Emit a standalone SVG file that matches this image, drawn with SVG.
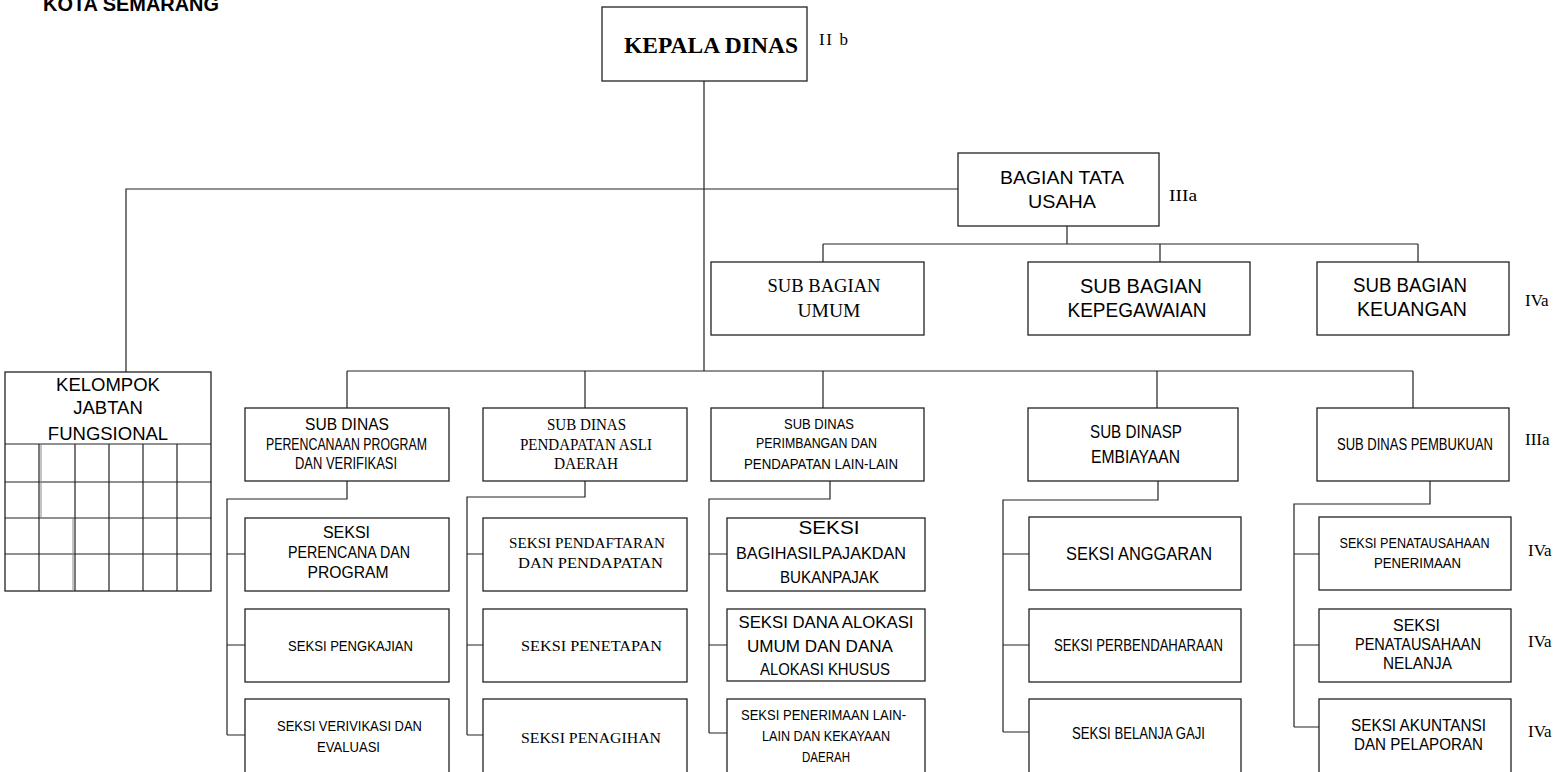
<svg xmlns="http://www.w3.org/2000/svg" width="1558" height="772" viewBox="0 0 1558 772">
<style>
.box{fill:#fff;stroke:#222;stroke-width:1.3}
.ln{fill:none;stroke:#222;stroke-width:1.2}
.a{font-family:"Liberation Sans",Arial,sans-serif;text-anchor:middle;fill:#000}
.t{font-family:"Liberation Serif","Times New Roman",serif;text-anchor:middle;fill:#000}
.lv{font-family:"Liberation Serif","Times New Roman",serif;fill:#000;font-size:17px}
</style>
<rect width="1558" height="772" fill="#fff"/>
<text x="43" y="11" font-family="Liberation Sans, Arial, sans-serif" font-weight="bold" font-size="19.5" textLength="176" lengthAdjust="spacingAndGlyphs">KOTA SEMARANG</text>

<g id="connectors">
<path class="ln" d="M704 81V371M958 189H126V372"/>
<path class="ln" d="M1067 226V244M823 244H1418M823 244V262M1160 244V262M1418 244V262"/>
<path class="ln" d="M347 371H1413M347 371V408M585 371V408M823 371V408M1157 371V408M1413 371V408"/>
<path class="ln" d="M347 481V499H227V735M227 554H245M227 645H245M227 735H245"/>
<path class="ln" d="M585 481V497H467V735M467 554H483M467 645H483M467 735H483"/>
<path class="ln" d="M830 481V499H709V733M709 554H727M709 645H727M709 733H727"/>
<path class="ln" d="M1158 481V500H1003V732M1003 554H1029M1003 645H1029M1003 732H1029"/>
<path class="ln" d="M1430 481V504H1294V727M1294 554H1319M1294 645H1319M1294 727H1323"/>
</g>

<g id="kepala-dinas">
<rect class="box" x="602" y="7" width="205" height="74"/>
<text class="t" x="711" y="53" font-size="23" font-weight="bold" textLength="174" lengthAdjust="spacingAndGlyphs">KEPALA DINAS</text>
<text class="lv" x="819" y="45" font-size="16" textLength="29" lengthAdjust="spacing">II b</text>
</g>

<g id="bagian-tata-usaha">
<rect class="box" x="958" y="153" width="201" height="73"/>
<text class="a" x="1062" y="184" font-size="18" textLength="124" lengthAdjust="spacingAndGlyphs">BAGIAN TATA</text>
<text class="a" x="1062" y="208" font-size="18" textLength="68" lengthAdjust="spacingAndGlyphs">USAHA</text>
<text class="lv" x="1169" y="201" font-size="18" textLength="28" lengthAdjust="spacingAndGlyphs">IIIa</text>
</g>

<g id="sub-bagian-umum">
<rect class="box" x="711" y="262" width="213" height="73"/>
<text class="t" x="824" y="292" font-size="19" textLength="113" lengthAdjust="spacingAndGlyphs">SUB BAGIAN</text>
<text class="t" x="829" y="317" font-size="19" textLength="63" lengthAdjust="spacingAndGlyphs">UMUM</text>
</g>

<g id="sub-bagian-kepegawaian">
<rect class="box" x="1028" y="262" width="222" height="73"/>
<text class="a" x="1141" y="293" font-size="20" textLength="122" lengthAdjust="spacingAndGlyphs">SUB BAGIAN</text>
<text class="a" x="1137" y="317" font-size="20" textLength="139" lengthAdjust="spacingAndGlyphs">KEPEGAWAIAN</text>
</g>

<g id="sub-bagian-keuangan">
<rect class="box" x="1317" y="262" width="192" height="73"/>
<text class="a" x="1410" y="292" font-size="20" textLength="114" lengthAdjust="spacingAndGlyphs">SUB BAGIAN</text>
<text class="a" x="1412" y="316" font-size="20" textLength="110" lengthAdjust="spacingAndGlyphs">KEUANGAN</text>
<text class="lv" x="1525" y="306">IVa</text>
</g>

<g id="kelompok-jabatan-fungsional">
<rect class="box" x="5" y="372" width="206" height="219"/>
<path class="ln" d="M5 444H211M5 482H211M5 518H211M5 554H211M39 444V591M75 444V591M109 444V591M143 444V591M177 444V591"/>
<path fill="none" stroke="#888" stroke-width="1" d="M41 444V518M73 518V591"/>
<text class="a" x="108" y="391" font-size="18.5">KELOMPOK</text>
<text class="a" x="108" y="414" font-size="18.5">JABTAN</text>
<text class="a" x="108" y="440" font-size="18.5">FUNGSIONAL</text>
</g>

<g id="sub-dinas-perencanaan">
<rect class="box" x="245" y="408" width="204" height="73"/>
<text class="a" x="347" y="430" font-size="16" textLength="84" lengthAdjust="spacingAndGlyphs">SUB DINAS</text>
<text class="a" x="346.5" y="450" font-size="16" textLength="161" lengthAdjust="spacingAndGlyphs">PERENCANAAN PROGRAM</text>
<text class="a" x="346" y="469" font-size="16" textLength="102" lengthAdjust="spacingAndGlyphs">DAN VERIFIKASI</text>
</g>

<g id="sub-dinas-pad">
<rect class="box" x="483" y="408" width="204" height="73"/>
<text class="t" x="586.5" y="430" font-size="16" textLength="79" lengthAdjust="spacingAndGlyphs">SUB DINAS</text>
<text class="t" x="586" y="450" font-size="16" textLength="132" lengthAdjust="spacingAndGlyphs">PENDAPATAN ASLI</text>
<text class="t" x="586" y="469" font-size="16" textLength="64" lengthAdjust="spacingAndGlyphs">DAERAH</text>
</g>

<g id="sub-dinas-perimbangan">
<rect class="box" x="711" y="408" width="213" height="73"/>
<text class="a" x="819" y="429" font-size="15" textLength="70" lengthAdjust="spacingAndGlyphs">SUB DINAS</text>
<text class="a" x="816.5" y="448" font-size="15" textLength="121" lengthAdjust="spacingAndGlyphs">PERIMBANGAN DAN</text>
<text class="a" x="821" y="469" font-size="15" textLength="154" lengthAdjust="spacingAndGlyphs">PENDAPATAN LAIN-LAIN</text>
</g>

<g id="sub-dinas-pembiayaan">
<rect class="box" x="1028" y="408" width="210" height="73"/>
<text class="a" x="1136" y="438" font-size="18" textLength="92" lengthAdjust="spacingAndGlyphs">SUB DINASP</text>
<text class="a" x="1135.5" y="463" font-size="18" textLength="89" lengthAdjust="spacingAndGlyphs">EMBIAYAAN</text>
</g>

<g id="sub-dinas-pembukuan">
<rect class="box" x="1317" y="408" width="192" height="73"/>
<text class="a" x="1415" y="450" font-size="16" textLength="156" lengthAdjust="spacingAndGlyphs">SUB DINAS PEMBUKUAN</text>
<text class="lv" x="1525" y="445">IIIa</text>
</g>

<g id="seksi-perencana-program">
<rect class="box" x="245" y="518" width="204" height="73"/>
<text class="a" x="346.5" y="538" font-size="16">SEKSI</text>
<text class="a" x="349" y="558" font-size="16" textLength="122" lengthAdjust="spacingAndGlyphs">PERENCANA DAN</text>
<text class="a" x="348" y="578" font-size="16" textLength="81" lengthAdjust="spacingAndGlyphs">PROGRAM</text>
</g>
<g id="seksi-pengkajian">
<rect class="box" x="245" y="609" width="204" height="73"/>
<text class="a" x="350.5" y="651" font-size="15" textLength="125" lengthAdjust="spacingAndGlyphs">SEKSI PENGKAJIAN</text>
</g>
<g id="seksi-verivikasi">
<rect class="box" x="245" y="699" width="204" height="100"/>
<text class="a" x="349.5" y="731" font-size="15" textLength="145" lengthAdjust="spacingAndGlyphs">SEKSI VERIVIKASI DAN</text>
<text class="a" x="348.5" y="752" font-size="15" textLength="63" lengthAdjust="spacingAndGlyphs">EVALUASI</text>
</g>

<g id="seksi-pendaftaran">
<rect class="box" x="483" y="518" width="204" height="73"/>
<text class="t" x="587" y="548" font-size="15" textLength="156" lengthAdjust="spacingAndGlyphs">SEKSI PENDAFTARAN</text>
<text class="t" x="590.5" y="568" font-size="15" textLength="145" lengthAdjust="spacingAndGlyphs">DAN PENDAPATAN</text>
</g>
<g id="seksi-penetapan">
<rect class="box" x="483" y="609" width="204" height="73"/>
<text class="t" x="591.5" y="651" font-size="15" textLength="141" lengthAdjust="spacingAndGlyphs">SEKSI PENETAPAN</text>
</g>
<g id="seksi-penagihan">
<rect class="box" x="483" y="699" width="204" height="100"/>
<text class="t" x="591" y="743" font-size="15" textLength="140" lengthAdjust="spacingAndGlyphs">SEKSI PENAGIHAN</text>
</g>

<g id="seksi-bagi-hasil">
<rect class="box" x="727" y="518" width="198" height="73"/>
<text class="a" x="829" y="534" font-size="19" textLength="61" lengthAdjust="spacingAndGlyphs">SEKSI</text>
<text class="a" x="821" y="559" font-size="17" textLength="170" lengthAdjust="spacingAndGlyphs">BAGIHASILPAJAKDAN</text>
<text class="a" x="829.5" y="583" font-size="17" textLength="99" lengthAdjust="spacingAndGlyphs">BUKANPAJAK</text>
</g>
<g id="seksi-dana-alokasi">
<rect class="box" x="727" y="609" width="198" height="72"/>
<text class="a" x="826" y="628" font-size="17" textLength="175" lengthAdjust="spacingAndGlyphs">SEKSI DANA ALOKASI</text>
<text class="a" x="820" y="652" font-size="17" textLength="146" lengthAdjust="spacingAndGlyphs">UMUM DAN DANA</text>
<text class="a" x="825" y="675" font-size="17" textLength="130" lengthAdjust="spacingAndGlyphs">ALOKASI KHUSUS</text>
</g>
<g id="seksi-penerimaan-lain">
<rect class="box" x="727" y="699" width="198" height="100"/>
<text class="a" x="823.5" y="720" font-size="14" textLength="165" lengthAdjust="spacingAndGlyphs">SEKSI PENERIMAAN LAIN-</text>
<text class="a" x="826" y="741" font-size="14" textLength="128" lengthAdjust="spacingAndGlyphs">LAIN DAN KEKAYAAN</text>
<text class="a" x="826" y="762" font-size="14" textLength="48" lengthAdjust="spacingAndGlyphs">DAERAH</text>
</g>

<g id="seksi-anggaran">
<rect class="box" x="1029" y="517" width="212" height="73"/>
<text class="a" x="1139" y="560" font-size="19" textLength="146" lengthAdjust="spacingAndGlyphs">SEKSI ANGGARAN</text>
</g>
<g id="seksi-perbendaharaan">
<rect class="box" x="1029" y="609" width="212" height="73"/>
<text class="a" x="1138.5" y="651" font-size="16" textLength="169" lengthAdjust="spacingAndGlyphs">SEKSI PERBENDAHARAAN</text>
</g>
<g id="seksi-belanja-gaji">
<rect class="box" x="1029" y="699" width="212" height="100"/>
<text class="a" x="1138.5" y="739" font-size="16" textLength="133" lengthAdjust="spacingAndGlyphs">SEKSI BELANJA GAJI</text>
</g>

<g id="seksi-penatausahaan-penerimaan">
<rect class="box" x="1319" y="517" width="192" height="73"/>
<text class="a" x="1414.5" y="548" font-size="15" textLength="150" lengthAdjust="spacingAndGlyphs">SEKSI PENATAUSAHAAN</text>
<text class="a" x="1417.5" y="568" font-size="15" textLength="87" lengthAdjust="spacingAndGlyphs">PENERIMAAN</text>
<text class="lv" x="1528" y="556">IVa</text>
</g>
<g id="seksi-penatausahaan-nelanja">
<rect class="box" x="1319" y="609" width="192" height="73"/>
<text class="a" x="1416.5" y="631" font-size="16" textLength="47" lengthAdjust="spacingAndGlyphs">SEKSI</text>
<text class="a" x="1418" y="650" font-size="16" textLength="126" lengthAdjust="spacingAndGlyphs">PENATAUSAHAAN</text>
<text class="a" x="1417.5" y="669" font-size="16" textLength="69" lengthAdjust="spacingAndGlyphs">NELANJA</text>
<text class="lv" x="1528" y="647">IVa</text>
</g>
<g id="seksi-akuntansi">
<rect class="box" x="1319" y="699" width="192" height="100"/>
<text class="a" x="1418.5" y="731" font-size="16" textLength="135" lengthAdjust="spacingAndGlyphs">SEKSI AKUNTANSI</text>
<text class="a" x="1418.5" y="750" font-size="16" textLength="129" lengthAdjust="spacingAndGlyphs">DAN PELAPORAN</text>
<text class="lv" x="1528" y="737">IVa</text>
</g>
</svg>
